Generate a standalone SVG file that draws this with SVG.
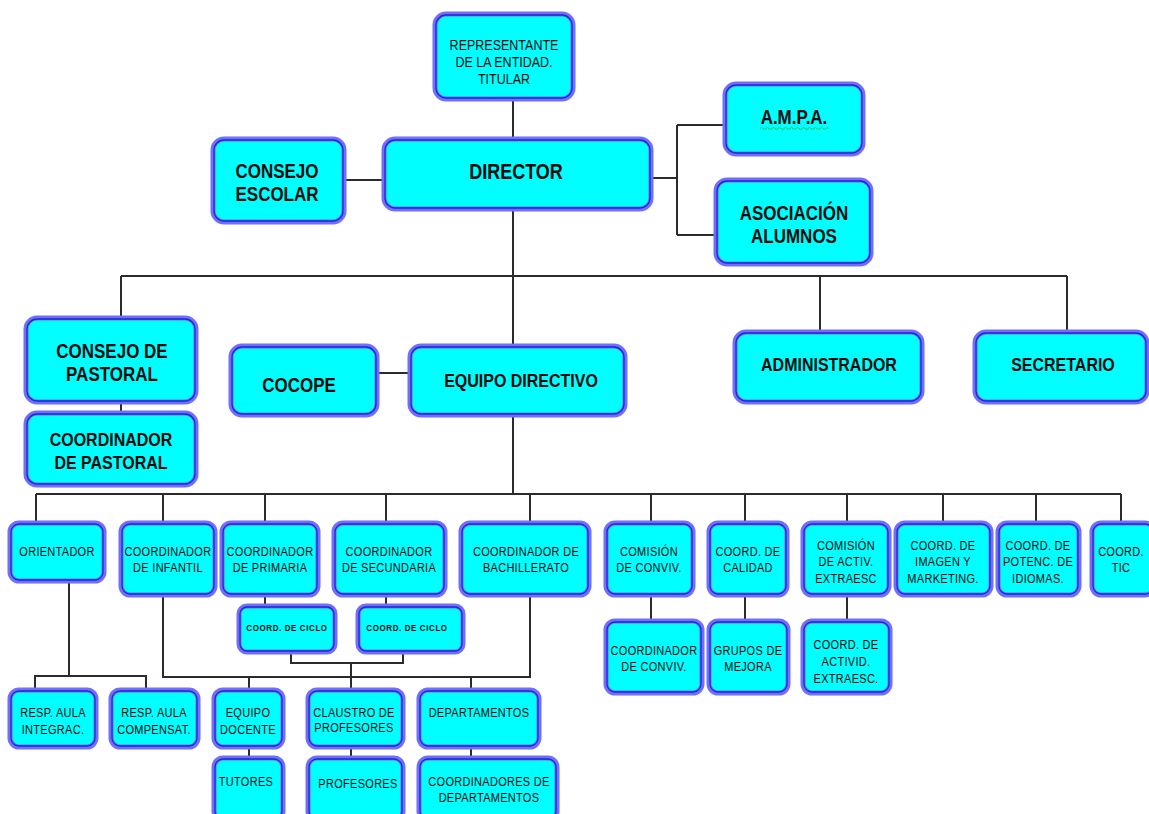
<svg xmlns="http://www.w3.org/2000/svg" width="1149" height="814" viewBox="0 0 1149 814">
<style>
.o{fill:#00ffff;stroke:#6e6eff;stroke-width:5}
.i{fill:none;stroke:#2626c8;stroke-width:1.3}
text{font-family:"Liberation Sans",Arial,sans-serif;fill:#0a0a0a;text-anchor:middle;transform-box:fill-box;transform-origin:center;transform:scaleY(1.2)}
.t1{font-size:18px;font-weight:bold}
.t2{font-size:17px;font-weight:bold}
.t3{font-size:16px;font-weight:bold}
.t4{font-size:12.5px}
.s{font-size:11px;letter-spacing:0.3px}
.xs{font-size:8px;letter-spacing:0.6px;font-weight:bold}
.c{fill:none;stroke:#2b2b2b;stroke-width:2}
</style>
<rect width="1149" height="814" fill="#ffffff"/>
<g id="connectors">
<path class="c" d="M513 99V139M344 180H384M651 178H677M677 125V235M677 125H725M677 235H716"/>
<path class="c" d="M513 209V276M121 276H1067M121 276V318M820 276V332M1067 276V332M513 276V346M121 402V413"/>
<path class="c" stroke-width="3" d="M377 373H410"/>
<path class="c" d="M513 415V494"/>
<path class="c" stroke-width="2.6" d="M36 494H1121"/>
<path class="c" d="M36 494V523M163 494V523M265 494V523M386 494V523M530 494V523M651 494V523M745 494V523M847 494V523M943 494V523M1036 494V523M1121 494V523"/>
<path class="c" d="M265 595V606M386 595V606M291 652V663H403V652M351 663V690"/>
<path class="c" d="M163 595V677H530V595M249 677V690M471 677V690"/>
<path class="c" d="M69 581V676M35 690V676H146V690"/>
<path class="c" d="M249 747V758M351 747V758M471 747V758"/>
<path class="c" d="M651 595V621M745 595V621M847 595V621"/>
</g>
<g id="representante"><rect class="o" x="435" y="14" width="138" height="85" rx="11"/><rect class="i" x="436" y="15" width="136" height="83" rx="10"/>
<text class="t4" x="504" y="49.5">REPRESENTANTE</text><text class="t4" x="504" y="66.5">DE LA ENTIDAD.</text><text class="t4" x="504" y="83.5">TITULAR</text></g>
<g id="director"><rect class="o" x="384" y="139" width="267" height="70" rx="11"/><rect class="i" x="385" y="140" width="265" height="68" rx="10"/>
<text class="t1" x="516" y="178">DIRECTOR</text></g>
<g id="consejo-escolar"><rect class="o" x="213" y="139" width="131" height="83" rx="11"/><rect class="i" x="214" y="140" width="129" height="81" rx="10"/>
<text class="t2" x="277" y="177">CONSEJO</text><text class="t2" x="277" y="200">ESCOLAR</text></g>
<g id="ampa"><rect class="o" x="725" y="84" width="138" height="70" rx="11"/><rect class="i" x="726" y="85" width="136" height="68" rx="10"/>
<text class="t2" x="794" y="123">A.M.P.A.</text><path d="M760 128.5q1.5-2 3 0t3 0 3 0 3 0 3 0 3 0 3 0 3 0 3 0 3 0 3 0 3 0 3 0 3 0 3 0 3 0 3 0 3 0 3 0 3 0 3 0 3 0 3 0" fill="none" stroke="#3cb043" stroke-width="0.9"/></g>
<g id="asociacion"><rect class="o" x="716" y="180" width="155" height="84" rx="11"/><rect class="i" x="717" y="181" width="153" height="82" rx="10"/>
<text class="t2" x="794" y="219">ASOCIACIÓN</text><text class="t2" x="794" y="242">ALUMNOS</text></g>
<g id="consejo-pastoral"><rect class="o" x="26" y="318" width="170" height="84" rx="11"/><rect class="i" x="27" y="319" width="168" height="82" rx="10"/>
<text class="t2" x="112" y="357">CONSEJO DE</text><text class="t2" x="112" y="380">PASTORAL</text></g>
<g id="coord-pastoral"><rect class="o" x="26" y="413" width="170" height="72" rx="11"/><rect class="i" x="27" y="414" width="168" height="70" rx="10"/>
<text class="t3" x="111" y="445">COORDINADOR</text><text class="t3" x="111" y="468">DE PASTORAL</text></g>
<g id="cocope"><rect class="o" x="231" y="346" width="146" height="69" rx="11"/><rect class="i" x="232" y="347" width="144" height="67" rx="10"/>
<text class="t2" x="299" y="391">COCOPE</text></g>
<g id="equipo-directivo"><rect class="o" x="410" y="346" width="215" height="69" rx="11"/><rect class="i" x="411" y="347" width="213" height="67" rx="10"/>
<text class="t3" x="521" y="386">EQUIPO DIRECTIVO</text></g>
<g id="administrador"><rect class="o" x="735" y="332" width="187" height="70" rx="11"/><rect class="i" x="736" y="333" width="185" height="68" rx="10"/>
<text class="t3" x="829" y="370">ADMINISTRADOR</text></g>
<g id="secretario"><rect class="o" x="975" y="332" width="172" height="70" rx="11"/><rect class="i" x="976" y="333" width="170" height="68" rx="10"/>
<text class="t3" x="1063" y="370">SECRETARIO</text></g>
<g id="orientador"><rect class="o" x="10" y="523" width="94" height="58" rx="9"/><rect class="i" x="11" y="524" width="92" height="56" rx="8"/>
<text class="s" x="57" y="555">ORIENTADOR</text></g>
<g id="coord-infantil"><rect class="o" x="121" y="523" width="94" height="72" rx="9"/><rect class="i" x="122" y="524" width="92" height="70" rx="8"/>
<text class="s" x="168" y="555">COORDINADOR</text><text class="s" x="168" y="571">DE INFANTIL</text></g>
<g id="coord-primaria"><rect class="o" x="222" y="523" width="96" height="72" rx="9"/><rect class="i" x="223" y="524" width="94" height="70" rx="8"/>
<text class="s" x="270" y="555">COORDINADOR</text><text class="s" x="270" y="571">DE PRIMARIA</text></g>
<g id="coord-secundaria"><rect class="o" x="334" y="523" width="111" height="72" rx="9"/><rect class="i" x="335" y="524" width="109" height="70" rx="8"/>
<text class="s" x="389" y="555">COORDINADOR</text><text class="s" x="389" y="571">DE SECUNDARIA</text></g>
<g id="coord-bachillerato"><rect class="o" x="461" y="523" width="128" height="72" rx="9"/><rect class="i" x="462" y="524" width="126" height="70" rx="8"/>
<text class="s" x="526" y="555">COORDINADOR DE</text><text class="s" x="526" y="571">BACHILLERATO</text></g>
<g id="comision-conviv"><rect class="o" x="606" y="523" width="87" height="72" rx="9"/><rect class="i" x="607" y="524" width="85" height="70" rx="8"/>
<text class="s" x="649" y="555">COMISIÓN</text><text class="s" x="649" y="571">DE CONVIV.</text></g>
<g id="coord-calidad"><rect class="o" x="709" y="523" width="78" height="72" rx="9"/><rect class="i" x="710" y="524" width="76" height="70" rx="8"/>
<text class="s" x="748" y="555">COORD. DE</text><text class="s" x="748" y="571">CALIDAD</text></g>
<g id="comision-activ"><rect class="o" x="803" y="523" width="86" height="72" rx="9"/><rect class="i" x="804" y="524" width="84" height="70" rx="8"/>
<text class="s" x="846" y="549">COMISIÓN</text><text class="s" x="846" y="565">DE ACTIV.</text><text class="s" x="846" y="582">EXTRAESC</text></g>
<g id="coord-imagen"><rect class="o" x="896" y="523" width="95" height="72" rx="9"/><rect class="i" x="897" y="524" width="93" height="70" rx="8"/>
<text class="s" x="943" y="549">COORD. DE</text><text class="s" x="943" y="565">IMAGEN Y</text><text class="s" x="943" y="582">MARKETING.</text></g>
<g id="coord-idiomas"><rect class="o" x="998" y="523" width="81" height="72" rx="9"/><rect class="i" x="999" y="524" width="79" height="70" rx="8"/>
<text class="s" x="1038" y="549">COORD. DE</text><text class="s" x="1038" y="565">POTENC. DE</text><text class="s" x="1038" y="582">IDIOMAS.</text></g>
<g id="coord-tic"><rect class="o" x="1092" y="523" width="62" height="72" rx="9"/><rect class="i" x="1093" y="524" width="60" height="70" rx="8"/>
<text class="s" x="1121" y="555">COORD.</text><text class="s" x="1121" y="571">TIC</text></g>
<g id="ciclo-primaria"><rect class="o" x="239" y="606" width="96" height="46" rx="8"/><rect class="i" x="240" y="607" width="94" height="44" rx="7"/>
<text class="xs" x="287" y="630">COORD. DE CICLO</text></g>
<g id="ciclo-secundaria"><rect class="o" x="358" y="606" width="105" height="46" rx="8"/><rect class="i" x="359" y="607" width="103" height="44" rx="7"/>
<text class="xs" x="407" y="630">COORD. DE CICLO</text></g>
<g id="coordinador-conviv"><rect class="o" x="606" y="621" width="96" height="72" rx="9"/><rect class="i" x="607" y="622" width="94" height="70" rx="8"/>
<text class="s" x="654" y="654">COORDINADOR</text><text class="s" x="654" y="670">DE CONVIV.</text></g>
<g id="grupos-mejora"><rect class="o" x="709" y="621" width="79" height="72" rx="9"/><rect class="i" x="710" y="622" width="77" height="70" rx="8"/>
<text class="s" x="748" y="654">GRUPOS DE</text><text class="s" x="748" y="670">MEJORA</text></g>
<g id="coord-actividades"><rect class="o" x="803" y="621" width="87" height="72" rx="9"/><rect class="i" x="804" y="622" width="85" height="70" rx="8"/>
<text class="s" x="846" y="648">COORD. DE</text><text class="s" x="846" y="665">ACTIVID.</text><text class="s" x="846" y="682">EXTRAESC.</text></g>
<g id="resp-integrac"><rect class="o" x="10" y="690" width="86" height="57" rx="9"/><rect class="i" x="11" y="691" width="84" height="55" rx="8"/>
<text class="s" x="53" y="716">RESP. AULA</text><text class="s" x="53" y="733">INTEGRAC.</text></g>
<g id="resp-compensat"><rect class="o" x="111" y="690" width="87" height="57" rx="9"/><rect class="i" x="112" y="691" width="85" height="55" rx="8"/>
<text class="s" x="154" y="716">RESP. AULA</text><text class="s" x="154" y="733">COMPENSAT.</text></g>
<g id="equipo-docente"><rect class="o" x="214" y="690" width="69" height="57" rx="9"/><rect class="i" x="215" y="691" width="67" height="55" rx="8"/>
<text class="s" x="248" y="716">EQUIPO</text><text class="s" x="248" y="733">DOCENTE</text></g>
<g id="claustro"><rect class="o" x="308" y="690" width="95" height="57" rx="9"/><rect class="i" x="309" y="691" width="93" height="55" rx="8"/>
<text class="s" x="354" y="716">CLAUSTRO DE</text><text class="s" x="354" y="731">PROFESORES</text></g>
<g id="departamentos"><rect class="o" x="419" y="690" width="120" height="57" rx="9"/><rect class="i" x="420" y="691" width="118" height="55" rx="8"/>
<text class="s" x="479" y="716">DEPARTAMENTOS</text></g>
<g id="tutores"><rect class="o" x="214" y="758" width="69" height="62" rx="9"/><rect class="i" x="215" y="759" width="67" height="60" rx="8"/>
<text class="s" x="246" y="785">TUTORES</text></g>
<g id="profesores"><rect class="o" x="308" y="758" width="95" height="62" rx="9"/><rect class="i" x="309" y="759" width="93" height="60" rx="8"/>
<text class="s" x="358" y="787">PROFESORES</text></g>
<g id="coord-departamentos"><rect class="o" x="419" y="758" width="138" height="62" rx="9"/><rect class="i" x="420" y="759" width="136" height="60" rx="8"/>
<text class="s" x="489" y="785">COORDINADORES DE</text><text class="s" x="489" y="801">DEPARTAMENTOS</text></g>
</svg>
